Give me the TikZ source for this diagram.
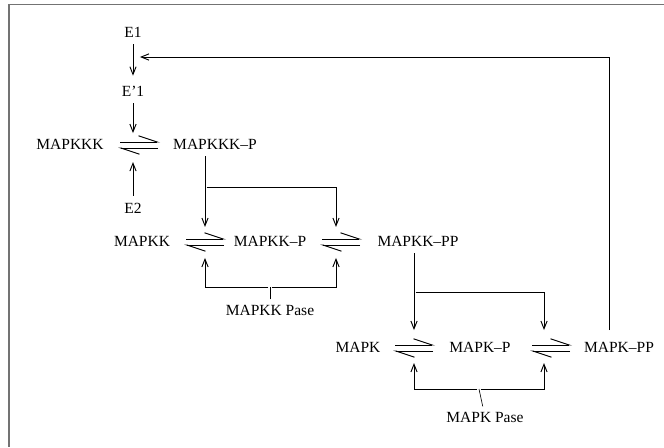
\documentclass[tikz,border=0pt]{standalone}
\usepackage{fontspec}
\setmainfont{Liberation Serif}
\usetikzlibrary{arrows.meta,calc}

\tikzset{
  arr/.style={-{Straight Barb[length=5pt,width=4pt]},line width=0.6pt,shorten <=1pt,shorten >=3pt},
  harp/.style={-{Straight Barb[left,length=12pt,width=8pt]},line width=0.6pt},
  frame/.style={black!55,line width=1.2pt},
}

% reversible step: two harpoons round a reaction point
\newcommand{\rev}[2][0]{%
  \draw[harp] ($(#2)+(#1-19,-3)$) -- ($(#2)+(#1+21,-3)$);
  \draw[harp] ($(#2)+(#1+19,3)$) -- ($(#2)+(#1-21,3)$);
}

\begin{document}
\begin{tikzpicture}[x=0.645pt,y=-0.645pt]
  \useasboundingbox (0,0) rectangle (664,447);
  \draw[frame] (664,4.5) -- (9,4.5) -- (9,447);

  % Species
  \node (E1) at (133,32) {E1};
  \node (E1p) at (133,91) {E'1};
  \node (kkk) at (70,144) {MAPKKK};
  \node (kkkp) at (215,144) {MAPKKK--P};
  \node (E2) at (133,208) {E2};
  \node (kk) at (142,241) {MAPKK};
  \node (kkp) at (270,241) {MAPKK--P};
  \node (kkpp) at (418,241) {MAPKK--PP};
  \node (kkpase) at (270,310) {MAPKK Pase};
  \node (k) at (358,347) {MAPK};
  \node (kp) at (480,347) {MAPK--P};
  \node (kpp) at (619,347) {MAPK--PP};
  \node (kpase) at (485,417) {MAPK Pase};

  % Reaction points and branch points
  \coordinate (r1) at (133,145);
  \coordinate (r2) at (205,242);
  \coordinate (r3) at (336,242);
  \coordinate (r4) at (414,348);
  \coordinate (r5) at (544,348);
  \coordinate (s1) at (205,187);
  \coordinate (s2) at (414,292);
  \coordinate (p1) at (270,287);
  \coordinate (p2) at (479,389);
  \coordinate (fb) at (609,57);
  \coordinate (fbin) at (133,57);

  % Harpoons
  \rev[6]{r1}
  \rev{r2}
  \rev[5]{r3}
  \rev{r4}
  \rev[7]{r5}

  % MAPKKK level
  \draw[arr] (E1) -- (E1p);
  \draw[arr,shorten >=7.7pt] (E1p) -- (r1);
  \draw[arr,shorten >=11pt] (E2) -- (r1);

  % MAPKK level
  \draw[arr,shorten >=9.7pt] (kkkp.south -| r2) -- (r2);
  \draw[arr,shorten >=9.7pt] (s1) -| (r3);
  \draw (kkpase) -- (p1);
  \draw[arr,shorten >=10.3pt] (p1) -| (r2);
  \draw[arr,shorten >=10.3pt] (p1) -| (r3);

  % MAPK level
  \draw[arr,shorten >=11.6pt] (kkpp.south -| r4) -- (r4);
  \draw[arr,shorten >=11.6pt] (s2) -| (r5);
  \draw (kpase) -- (p2);
  \draw[arr,shorten >=9.7pt] (p2) -| (r4);
  \draw[arr,shorten >=9.7pt] (p2) -| (r5);

  % feedback
  \draw[arr,shorten <=4pt,shorten >=4.5pt] (kpp.north -| fb) |- (fbin);
\end{tikzpicture}
\end{document}
